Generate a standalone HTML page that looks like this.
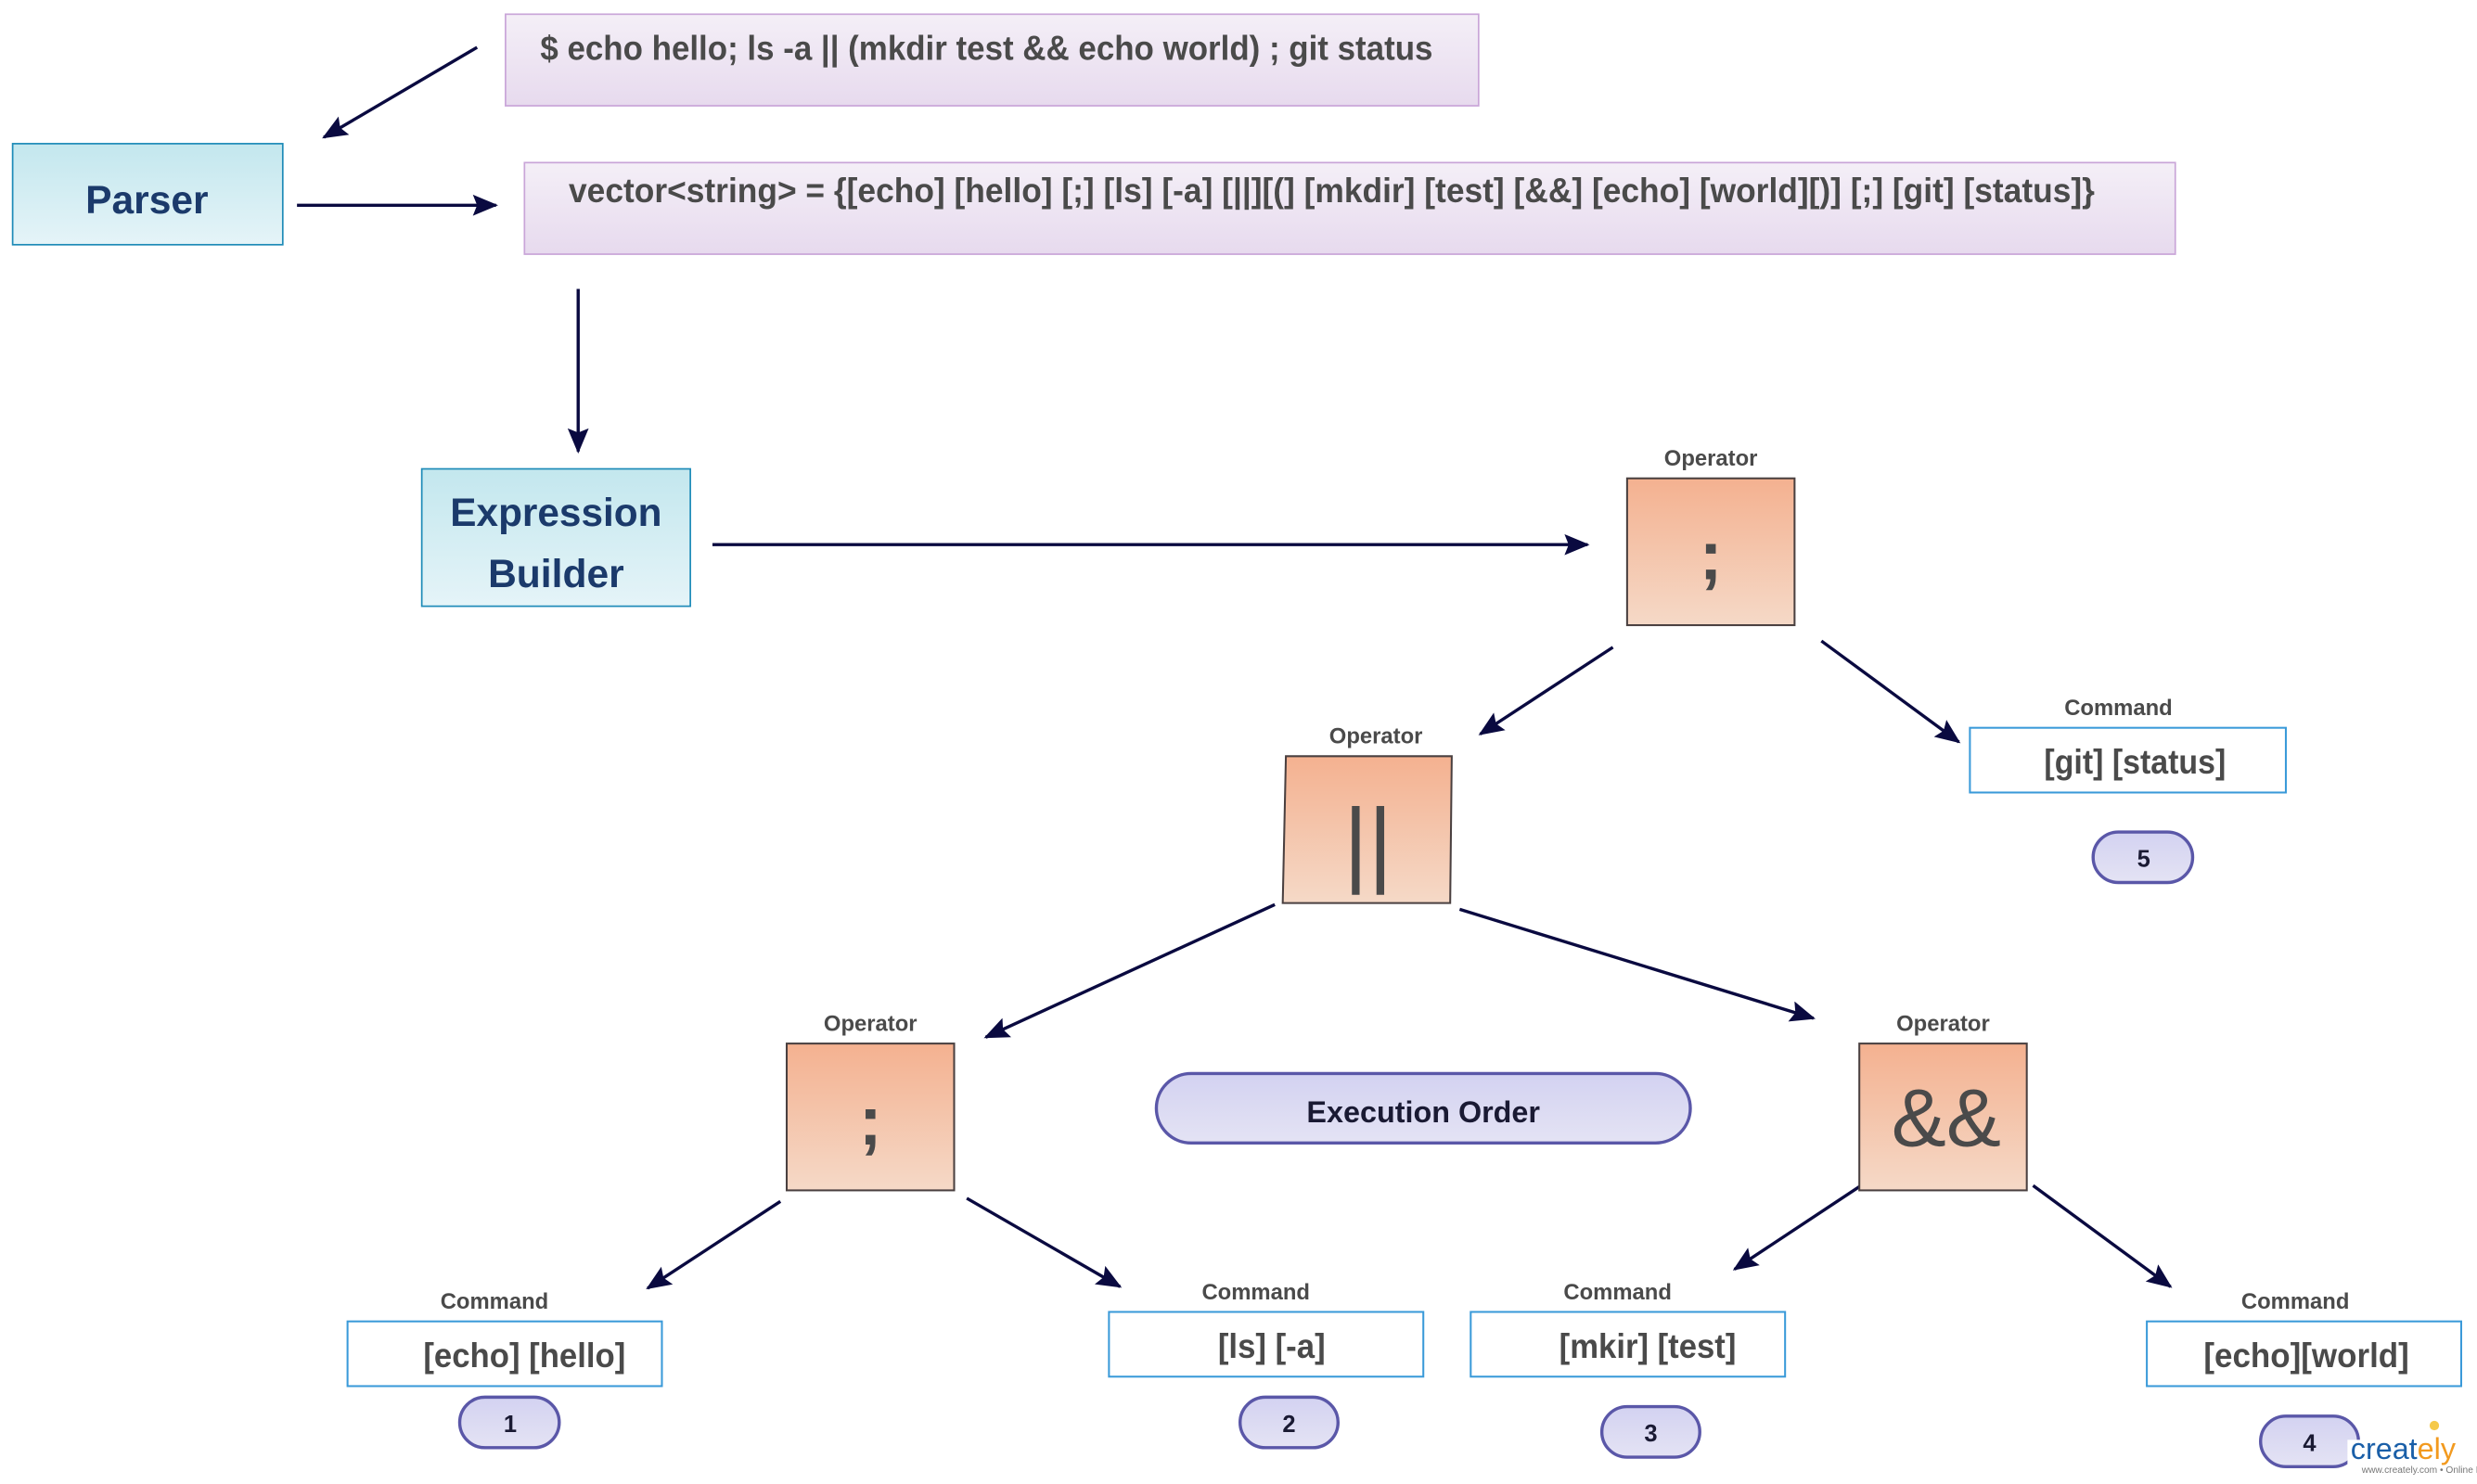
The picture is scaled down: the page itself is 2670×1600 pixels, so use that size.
<!DOCTYPE html>
<html><head><meta charset="utf-8"><style>html,body{margin:0;padding:0;background:#fff;width:2670px;height:1600px;overflow:hidden}svg{display:block}</style></head>
<body>
<svg width="2670" height="1600" viewBox="0 0 1568 940" preserveAspectRatio="none" xmlns="http://www.w3.org/2000/svg" font-family="Liberation Sans, sans-serif">
<defs>
<linearGradient id="pu" x1="0" y1="0" x2="0" y2="1"><stop offset="0" stop-color="#f4eff7"/><stop offset="1" stop-color="#e7daee"/></linearGradient>
<linearGradient id="bl" x1="0" y1="0" x2="0" y2="1"><stop offset="0" stop-color="#c3e7ee"/><stop offset="1" stop-color="#e5f4f8"/></linearGradient>
<linearGradient id="or" x1="0" y1="0" x2="0" y2="1"><stop offset="0" stop-color="#f4b190"/><stop offset="1" stop-color="#f5d9c7"/></linearGradient>
<linearGradient id="pl" x1="0" y1="0" x2="0" y2="1"><stop offset="0" stop-color="#d3d2f1"/><stop offset="1" stop-color="#e4e3f4"/></linearGradient>
<marker id="ah" viewBox="0 0 12 10" refX="11" refY="5" markerWidth="8" markerHeight="7" orient="auto" markerUnits="strokeWidth"><path d="M0,0 L12,5 L0,10 L2,5 z" fill="#0a0a40"/></marker>
</defs>
<g stroke="#0a0a40" stroke-width="2" fill="none" marker-end="url(#ah)">
<line x1="302" y1="30" x2="205" y2="87"/>
<line x1="188" y1="130" x2="314" y2="130"/>
<line x1="366" y1="183" x2="366" y2="286"/>
<line x1="451" y1="345" x2="1005" y2="345"/>
<line x1="1021" y1="410" x2="937" y2="465"/>
<line x1="1153" y1="406" x2="1240" y2="470"/>
<line x1="807" y1="573" x2="624" y2="657"/>
<line x1="924" y1="576" x2="1148" y2="645"/>
<line x1="494" y1="761" x2="410" y2="816"/>
<line x1="612" y1="759" x2="709" y2="815"/>
<line x1="1181" y1="749" x2="1098" y2="804"/>
<line x1="1287" y1="751" x2="1374" y2="815"/>
</g>
<rect x="320" y="9" width="616" height="58" fill="url(#pu)" stroke="#c9a5d8"/>
<text x="342" y="38" font-size="22" font-weight="bold" fill="#4a4a4a" textLength="565" lengthAdjust="spacingAndGlyphs">$ echo hello; ls -a || (mkdir test &amp;&amp; echo world) ; git status</text>
<rect x="332" y="103" width="1045" height="58" fill="url(#pu)" stroke="#c9a5d8"/>
<text x="360" y="128" font-size="22" font-weight="bold" fill="#4a4a4a" textLength="966" lengthAdjust="spacingAndGlyphs">vector&lt;string&gt; = {[echo] [hello] [;] [ls] [-a] [||][(] [mkdir] [test] [&amp;&amp;] [echo] [world][)] [;] [git] [status]}</text>
<rect x="8" y="91" width="171" height="64" fill="url(#bl)" stroke="#1e8bb8"/>
<text x="93" y="135" font-size="25" font-weight="bold" fill="#1b3a6b" text-anchor="middle">Parser</text>
<rect x="267" y="297" width="170" height="87" fill="url(#bl)" stroke="#1e8bb8"/>
<text x="352" y="333" font-size="25" font-weight="bold" fill="#1b3a6b" text-anchor="middle" textLength="134" lengthAdjust="spacingAndGlyphs">Expression</text>
<text x="352" y="372" font-size="25" font-weight="bold" fill="#1b3a6b" text-anchor="middle">Builder</text>
<g font-size="14" font-weight="bold" fill="#4a4a4a" text-anchor="middle">
<text x="1083" y="295">Operator</text><text x="871" y="471">Operator</text><text x="551" y="653">Operator</text><text x="1230" y="653">Operator</text>
<text x="1341" y="453">Command</text><text x="313" y="829">Command</text><text x="795" y="823">Command</text><text x="1024" y="823">Command</text><text x="1453" y="829">Command</text>
</g>
<g fill="url(#or)" stroke="#4a4040" stroke-width="1.2">
<rect x="1030" y="303" width="106" height="93"/>
<path d="M814,479 L919,479 L918,572 L812,572 z"/>
<rect x="498" y="661" width="106" height="93"/>
<rect x="1177" y="661" width="106" height="93"/>
</g>
<g fill="#4a4a4a" text-anchor="middle">
<text x="1083" y="367" font-size="44" font-weight="bold">;</text>
<text x="866" y="554" font-size="60">||</text>
<text x="551" y="725" font-size="44" font-weight="bold">;</text>
<text x="1232" y="726" font-size="52">&amp;&amp;</text>
</g>
<g fill="#fff" stroke="#3a9ad9" stroke-width="1.2">
<rect x="1247" y="461" width="200" height="41"/>
<rect x="220" y="837" width="199" height="41"/>
<rect x="702" y="831" width="199" height="41"/>
<rect x="931" y="831" width="199" height="41"/>
<rect x="1359" y="837" width="199" height="41"/>
</g>
<g font-size="22" font-weight="bold" fill="#4a4a4a" lengthAdjust="spacingAndGlyphs">
<text x="1294" y="490" textLength="115" lengthAdjust="spacingAndGlyphs">[git] [status]</text>
<text x="268" y="866" textLength="128" lengthAdjust="spacingAndGlyphs">[echo] [hello]</text>
<text x="771" y="860" textLength="68" lengthAdjust="spacingAndGlyphs">[ls] [-a]</text>
<text x="987" y="860" textLength="112" lengthAdjust="spacingAndGlyphs">[mkir] [test]</text>
<text x="1395" y="866" textLength="130" lengthAdjust="spacingAndGlyphs">[echo][world]</text>
</g>
<g fill="url(#pl)" stroke="#5a57a8" stroke-width="2">
<rect x="1325" y="527" width="63" height="32" rx="16"/>
<rect x="291" y="885" width="63" height="32" rx="16"/>
<rect x="785" y="885" width="62" height="32" rx="16"/>
<rect x="1014" y="891" width="62" height="32" rx="16"/>
<rect x="1431" y="897" width="62" height="32" rx="16"/>
<rect x="732" y="680" width="338" height="44" rx="22"/>
</g>
<g font-size="15" font-weight="bold" fill="#1a1a33" text-anchor="middle">
<text x="1357" y="549">5</text><text x="323" y="907">1</text><text x="816" y="907">2</text><text x="1045" y="913">3</text><text x="1462" y="919">4</text>
<text x="901" y="711" font-size="19">Execution Order</text>
</g>
<rect x="1486" y="912" width="80" height="28" fill="#fff"/>
<text x="1488" y="924" font-size="19" fill="#1a5fa8">creat<tspan fill="#f29a1f">ely</tspan></text>
<circle cx="1541" cy="903" r="3" fill="#f5c94a"/>
<text x="1495" y="933" font-size="6" fill="#777">www.creately.com • Online Diagramming</text>
</svg>
</body></html>
